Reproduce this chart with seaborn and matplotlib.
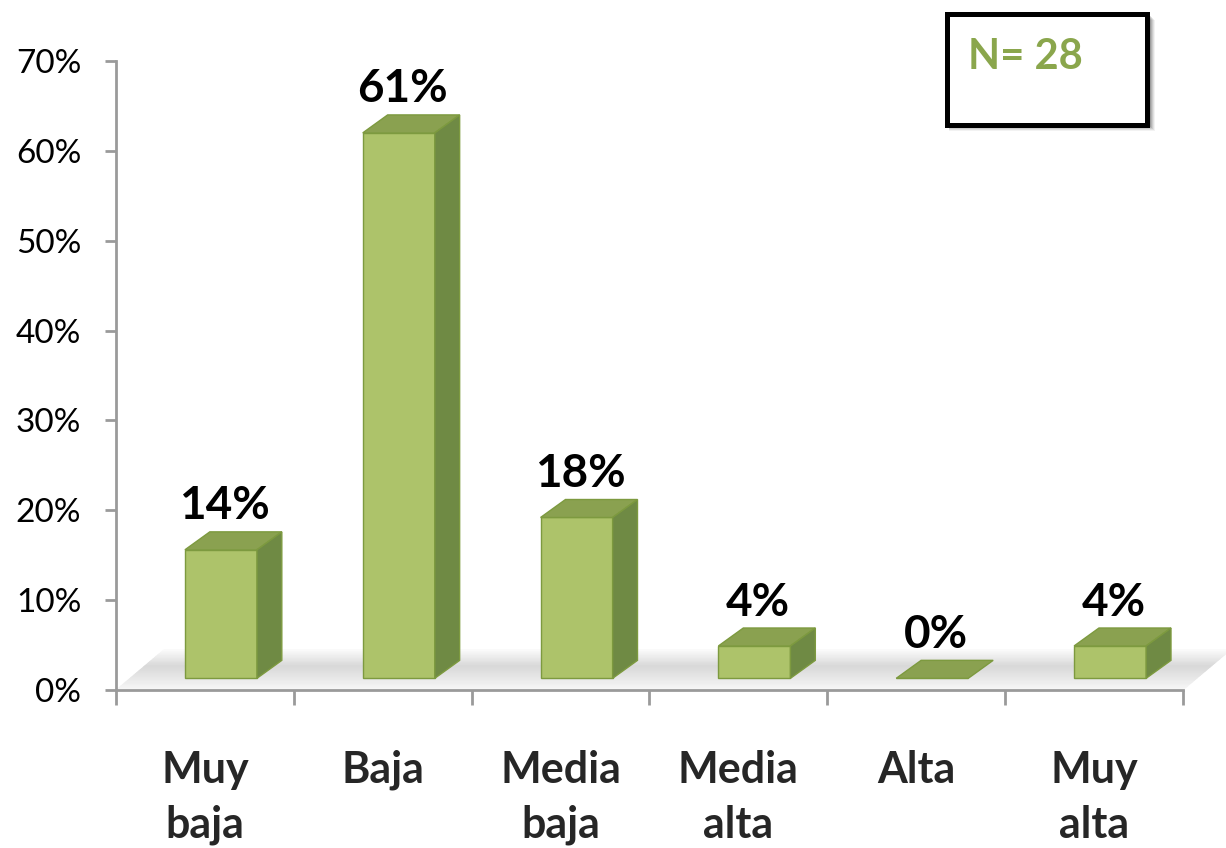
import matplotlib
matplotlib.use("Agg")
import matplotlib.pyplot as plt
from matplotlib.patches import Polygon, Rectangle
import numpy as np
import seaborn as sns

# data (N = 28)
categorias = ["Muy\nbaja", "Baja", "Media\nbaja", "Media\nalta", "Alta", "Muy\nalta"]
valores = [14.3, 60.7, 17.9, 3.6, 0.0, 3.6]
etiquetas = ["14%", "61%", "18%", "4%", "0%", "4%"]
y_ticks = [0, 10, 20, 30, 40, 50, 60, 70]
y_tick_labels = ["0%", "10%", "20%", "30%", "40%", "50%", "60%", "70%"]
n_text = "N= 28"

FRONT = "#adc36a"
TOP = "#8aa150"
SIDE = "#6f8a44"
EDGE = "#7d9a3f"
AXIS_GRAY = "#9a9a9a"

sns.set_style("white")
plt.rcParams["font.family"] = ["Lato", "DejaVu Sans"]

fig = plt.figure(figsize=(12.26, 8.48), dpi=100)
ax = fig.add_axes([116 / 1226, 158 / 848, (1183 - 116) / 1226, (690 - 61) / 848])

sns.barplot(x=categorias, y=valores, color=FRONT, width=0.405, ax=ax,
            edgecolor=EDGE, linewidth=1, saturation=1, zorder=3)

# fake 3D depth
shift = 0.09
floor = 1.3
dx, dy = 0.14, 2.0

# floor: stack of thin parallelogram strips, grey gradient front to back
floor_depth, floor_dx = 4.5, 0.27
shades = np.concatenate([np.linspace(0.97, 0.85, 18), np.linspace(0.85, 0.98, 12)])
edges = np.linspace(0, 1, len(shades) + 1)
for g, t0, t1 in zip(shades, edges[:-1], edges[1:]):
    ax.add_patch(Polygon([(-0.5 + floor_dx * t0, floor_depth * t0),
                          (5.5 + floor_dx * t0, floor_depth * t0),
                          (5.5 + floor_dx * t1, floor_depth * t1),
                          (-0.5 + floor_dx * t1, floor_depth * t1)],
                         closed=True, facecolor=str(g), edgecolor=str(g), lw=0.5,
                         clip_on=False, zorder=1))

for p, v, lab in zip(ax.patches, valores, etiquetas):
    x0 = p.get_x() + shift
    w = p.get_width()
    p.set_x(x0)
    p.set_y(floor)
    p.set_height(v)
    top = floor + v
    ax.add_patch(Polygon([(x0, top), (x0 + w, top), (x0 + w + dx, top + dy), (x0 + dx, top + dy)],
                         closed=True, facecolor=TOP, edgecolor=EDGE, lw=1, zorder=4))
    if v > 0:
        ax.add_patch(Polygon([(x0 + w, floor), (x0 + w + dx, floor + dy),
                              (x0 + w + dx, top + dy), (x0 + w, top)],
                             closed=True, facecolor=SIDE, edgecolor=EDGE, lw=1, zorder=4))
    ax.text(x0 + w / 2 + 0.02, top + dy + 0.5, lab, ha="center", va="bottom",
            fontsize=33, fontweight="bold", color="black", zorder=5)

ax.set_xlim(-0.5, 5.5)
ax.set_ylim(0, 70)

# axes styling
for s in ["top", "right"]:
    ax.spines[s].set_visible(False)
for s in ["left", "bottom"]:
    ax.spines[s].set_color(AXIS_GRAY)
    ax.spines[s].set_linewidth(2)
    ax.spines[s].set_zorder(2)

ax.set_yticks(y_ticks)
ax.set_yticklabels(y_tick_labels)
ax.tick_params(axis="y", length=8, width=2, color=AXIS_GRAY, pad=17,
               labelsize=24, labelcolor="black", left=True)

ax.set_xticks(np.arange(-0.5, 6.0, 1.0))
ax.set_xticklabels([])
ax.set_xticks(np.arange(len(categorias)), minor=True)
ax.set_xticklabels(categorias, minor=True, fontsize=31, fontweight="bold",
                   linespacing=1.45, va="top")
ax.tick_params(axis="x", which="major", length=11, width=2, color=AXIS_GRAY,
               direction="out", bottom=True)
ax.tick_params(axis="x", which="minor", length=0, pad=43)
ax.set_xlabel("")
ax.set_ylabel("")

# N box with shadow
W, H = 1226, 848
bx0, by0, bx1, by1 = 947, 14, 1147, 125
for k, a in zip(range(6, 0, -1), [0.05, 0.07, 0.09, 0.11, 0.13, 0.15]):
    fig.patches.append(Rectangle(((bx0 + 2) / W, (H - by1 - k) / H), (bx1 - bx0 + k) / W,
                                 (by1 - by0) / H, transform=fig.transFigure,
                                 facecolor="black", edgecolor="none", alpha=a))
fig.patches.append(Rectangle((bx0 / W, (H - by1) / H), (bx1 - bx0) / W, (by1 - by0) / H,
                             transform=fig.transFigure, facecolor="white",
                             edgecolor="black", linewidth=3.6))
fig.text(968 / W, (H - 57) / H, n_text, ha="left", va="center", fontsize=30,
         fontweight="bold", color="#8aa64c")

fig.savefig("out.png", dpi=100)
